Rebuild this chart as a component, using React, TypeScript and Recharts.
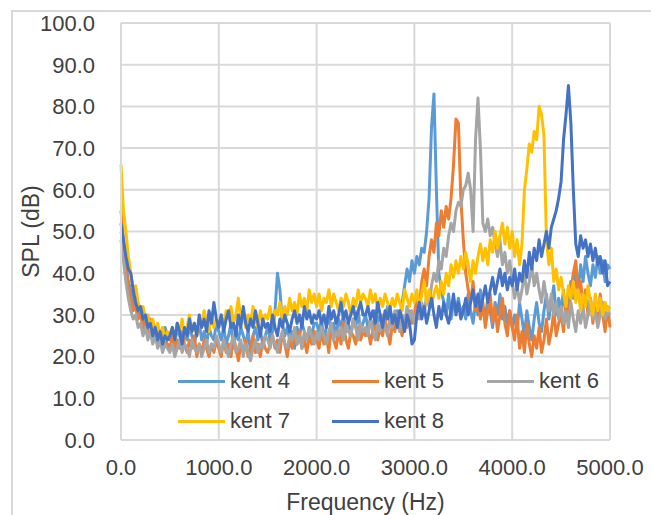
import { LineChart, Line, XAxis, YAxis, CartesianGrid, Legend, Label } from "recharts";

// SPL (dB) sampled every 25 Hz, 0 .. 5000 Hz
const FREQ_STEP_HZ = 25;

const kent4Spl = [
  50, 47, 42, 38, 36, 33, 32, 30, 31, 28, 29, 27, 28, 26, 27, 25, 26, 24, 27, 25,
  24, 26, 23, 27, 25, 22, 26, 24, 27, 25, 23, 26, 28, 24, 26, 23, 27, 25, 24, 28,
  26, 24, 27, 23, 25, 28, 22, 26, 24, 27, 25, 23, 26, 21, 25, 27, 24, 26, 23, 25,
  27, 24, 26, 31, 40, 36, 28, 25, 27, 24, 26, 22, 27, 25, 28, 26, 24, 27, 25, 28,
  28, 26, 29, 24, 27, 30, 26, 28, 25, 29, 27, 30, 26, 28, 25, 29, 27, 31, 26, 28,
  30, 27, 29, 26, 31, 28, 30, 27, 29, 32, 28, 30, 27, 31, 29, 33, 37, 41, 38, 43,
  40, 44, 42, 46, 45, 50, 58, 75, 83, 60, 40, 36, 33, 30, 35, 29, 33, 31, 34, 30,
  32, 29, 35, 31, 28, 33, 30, 36, 32, 29, 34, 31, 27, 33, 30, 35, 29, 32, 28, 31,
  27, 30, 26, 33, 29, 25, 31, 27, 24, 29, 33, 28, 26, 31, 35, 29, 33, 37, 30, 34,
  31, 36, 29, 33, 38, 34, 40, 36, 42, 38, 44, 40, 37, 42, 39, 44, 40, 43, 38, 42,
  41,
];

const kent5Spl = [
  55, 48, 42, 37, 34, 31, 32, 29, 30, 27, 28, 26, 29, 25, 27, 23, 26, 22, 24, 23,
  22, 25, 21, 24, 22, 26, 23, 21, 24, 22, 25, 20, 23, 21, 24, 22, 20, 23, 21, 24,
  22, 20, 24, 21, 23, 20, 25, 22, 19, 23, 21, 24, 20, 22, 25, 21, 23, 20, 24, 22,
  21, 23, 25, 22, 24, 21, 26, 23, 20, 24, 22, 25, 23, 26, 22, 24, 21, 25, 23, 26,
  24, 22, 26, 23, 25, 21, 27, 24, 22, 26, 23, 28, 24, 22, 26, 25, 23, 27, 24, 26,
  25, 27, 23, 26, 28, 24, 27, 25, 29, 26, 23, 28, 26, 30, 27, 25, 29, 27, 31, 28,
  30, 34, 32, 38, 41, 37, 44, 48, 45, 52, 49, 55, 51, 56, 53, 58, 66, 77, 76, 58,
  48, 40, 36, 33, 38, 31, 34, 29, 33, 27, 31, 35, 28, 32, 26, 30, 34, 28, 25, 31,
  27, 24, 30, 22, 26, 21, 28, 23, 20, 25, 22, 27, 21, 24, 29, 23, 26, 31, 25, 28,
  30, 26, 33, 29, 36, 40, 43, 35, 38, 32, 36, 30, 34, 28, 33, 29, 35, 30, 26, 32,
  27,
];

const kent6Spl = [
  48, 43, 38, 34, 31, 29, 30, 27, 28, 25, 27, 24, 26, 23, 25, 22, 24, 21, 23, 22,
  21, 23, 20, 22, 24, 21, 23, 22, 20, 24, 22, 21, 23, 20, 22, 24, 21, 23, 22, 25,
  23, 21, 24, 22, 20, 23, 25, 21, 22, 24, 20, 23, 21, 19, 22, 24, 21, 23, 22, 25,
  24, 22, 25, 23, 21, 24, 26, 23, 22, 25, 24, 27, 23, 25, 22, 26, 24, 27, 25, 23,
  26, 24, 27, 25, 23, 26, 28, 24, 26, 25, 27, 24, 28, 26, 25, 29, 27, 24, 28, 26,
  27, 25, 29, 26, 24, 28, 26, 30, 27, 25, 29, 27, 31, 28, 26, 30, 28, 32, 29, 31,
  28, 31, 29, 33, 30, 35, 32, 37, 40, 38, 43, 41, 46, 44, 49, 52, 50, 55, 57, 56,
  60, 61, 64, 60, 50, 72, 82, 70, 52, 50, 53, 49, 51, 47, 44, 48, 42, 45, 40, 43,
  38, 34, 37, 33, 36, 40, 35, 38, 42, 37, 40, 36, 33, 38, 34, 31, 35, 30, 33, 29,
  32, 28, 31, 27, 33, 29, 26, 31, 28, 32, 27, 30, 34, 29, 31, 27, 30, 33, 29, 31,
  30,
];

const kent7Spl = [
  66, 55, 50, 44, 40, 36, 37, 33, 31, 32, 29, 30, 27, 29, 26, 28, 25, 27, 24, 26,
  25, 27, 24, 28, 26, 29, 25, 27, 30, 26, 28, 25, 29, 27, 31, 28, 26, 30, 27, 29,
  28, 30, 27, 31, 29, 32, 28, 30, 34, 29, 31, 27, 30, 28, 32, 29, 27, 31, 28, 30,
  29, 32, 28, 31, 30, 33, 29, 32, 30, 34, 31, 33, 30, 35, 32, 34, 31, 36, 33, 35,
  32, 35, 31, 34, 33, 36, 32, 35, 33, 31, 34, 32, 35, 33, 30, 34, 32, 36, 33, 35,
  34, 32, 36, 33, 35, 31, 34, 32, 35, 33, 31, 34, 32, 35, 33, 31, 36, 34, 32, 35,
  33, 36, 31, 35, 38, 33, 36, 32, 35, 37, 34, 38, 35, 40, 37, 42, 39, 43, 40, 44,
  41, 45, 42, 38, 43, 40, 44, 47, 43, 46, 42, 48, 45, 50, 46, 49, 52, 47, 51, 46,
  50, 44, 48, 42, 47, 60, 65, 71, 69, 74, 72, 80, 78, 73, 48, 42, 46, 38, 41, 36,
  39, 35, 32, 37, 34, 38, 33, 36, 31, 35, 32, 37, 33, 30, 35, 31, 34, 30, 33, 31,
  32,
];

const kent8Spl = [
  52, 48, 44, 41, 40, 36, 33, 31, 32, 29, 30, 27, 28, 25, 27, 24, 26, 23, 25, 24,
  25, 27, 24, 28, 26, 23, 27, 25, 29, 26, 28, 25, 30, 27, 29, 26, 31, 28, 33, 29,
  27, 30, 26, 29, 31, 27, 28, 25, 30, 27, 32, 28, 26, 29, 27, 31, 28, 25, 29, 27,
  28, 26, 30, 27, 25, 29, 27, 30, 28, 26, 29, 31, 28, 30, 27, 32, 29, 31, 28, 30,
  29, 31, 28, 30, 27, 32, 29, 31, 28, 30, 33, 29, 31, 28, 30, 32, 29, 31, 33, 30,
  30, 32, 29, 31, 28, 33, 30, 27, 31, 29, 32, 28, 30, 27, 31, 29, 26, 30, 28, 23,
  24, 30, 33, 29, 32, 28, 31, 34, 30, 27, 32, 29, 33, 30, 28, 31, 35, 30, 33, 29,
  31, 34, 30, 33, 36, 32, 35, 31, 34, 37, 33, 36, 39, 35, 38, 41, 37, 40, 36, 39,
  37, 41, 36, 40, 38, 43, 39, 45, 41, 46, 43, 48, 44, 47, 50, 46, 51, 53, 55, 58,
  62, 72, 78, 85, 76, 60, 47, 44, 49, 46, 48, 44, 47, 43, 46, 42, 44, 40, 43, 37,
  38,
];

const seriesNames = ["kent 4", "kent 5", "kent 6", "kent 7", "kent 8"];
const seriesKeys = ["k4", "k5", "k6", "k7", "k8"];
const seriesColors = ["#5B9BD5", "#ED7D31", "#A5A5A5", "#FFC000", "#4472C4"];
const seriesValues = [kent4Spl, kent5Spl, kent6Spl, kent7Spl, kent8Spl];

const xTicks = [0, 1000, 2000, 3000, 4000, 5000];
const yTicks = [0, 10, 20, 30, 40, 50, 60, 70, 80, 90, 100];

const data = kent4Spl.map((_, i) => {
  const row: Record<string, number> = { freq: i * FREQ_STEP_HZ };
  seriesKeys.forEach((k, s) => (row[k] = seriesValues[s][i]));
  return row;
});

const FONT = "'Liberation Sans', Arial, sans-serif";
const TEXT = "#404040";
const GRID = "#d9d9d9";

// legend cells: 3 columns, 2 rows, laid over the bottom of the plot
const legendCols = [178, 332, 487];
const legendRows = [381, 421];

function ChartLegend() {
  return (
    <div style={{ position: "relative", width: 651, height: 515 }}>
      {seriesNames.map((name, i) => {
        const left = legendCols[i % 3];
        const top = legendRows[Math.floor(i / 3)];
        return (
          <div
            key={name}
            style={{
              position: "absolute",
              left,
              top: top - 13,
              height: 26,
              display: "flex",
              alignItems: "center",
              fontFamily: FONT,
              fontSize: 22,
              color: TEXT,
              whiteSpace: "nowrap",
            }}
          >
            <span style={{ display: "inline-block", width: 47, height: 3, background: seriesColors[i], marginRight: 5 }} />
            {name}
          </div>
        );
      })}
    </div>
  );
}

function YTitle({ viewBox }: any) {
  const cy = viewBox.y + viewBox.height / 2;
  const cx = 31;
  return (
    <text
      x={cx}
      y={cy}
      dy="0.35em"
      textAnchor="middle"
      transform={`rotate(-90 ${cx} ${cy})`}
      fontFamily={FONT}
      fontSize={23}
      fill={TEXT}
    >
      SPL (dB)
    </text>
  );
}

export default function App() {
  return (
    <div
      style={{
        position: "absolute",
        left: 0,
        top: 0,
        width: 651,
        height: 515,
        overflow: "hidden",
        background: "#fff",
      }}
    >
      <div
        style={{
          position: "absolute",
          left: 11,
          top: 10,
          width: 700,
          height: 600,
          border: `2px solid ${GRID}`,
        }}
      />
      <div style={{ position: "absolute", left: 0, top: 0 }}>
        <LineChart width={651} height={515} data={data} margin={{ top: 23, right: 41, left: 0, bottom: 0 }}>
          <CartesianGrid stroke={GRID} strokeWidth={2} />
          <XAxis
            dataKey="freq"
            type="number"
            domain={[0, 5000]}
            ticks={xTicks}
            tickFormatter={(v: number) => v.toFixed(1)}
            height={75}
            tickSize={0}
            tickMargin={19}
            axisLine={{ stroke: GRID, strokeWidth: 2 }}
            tick={{ fill: TEXT, fontSize: 22, fontFamily: FONT }}
          >
            <Label
              value="Frequency (Hz)"
              position="insideBottom"
              offset={5}
              style={{ fill: TEXT, fontSize: 23, fontFamily: FONT }}
            />
          </XAxis>
          <YAxis
            type="number"
            domain={[0, 100]}
            ticks={yTicks}
            tickFormatter={(v: number) => v.toFixed(1)}
            width={121}
            tickSize={0}
            tickMargin={26}
            axisLine={{ stroke: GRID, strokeWidth: 2 }}
            tick={{ fill: TEXT, fontSize: 22, fontFamily: FONT }}
          >
            <Label content={<YTitle />} />
          </YAxis>
          <Legend
            layout="horizontal"
            verticalAlign="middle"
            align="center"
            content={() => <ChartLegend />}
            wrapperStyle={{ left: 0, top: 0, width: 651, height: 515, pointerEvents: "none" }}
          />
          {seriesKeys.map((k, i) => (
            <Line
              key={k}
              dataKey={k}
              name={seriesNames[i]}
              stroke={seriesColors[i]}
              strokeWidth={3}
              strokeLinejoin="round"
              dot={false}
              activeDot={false}
              isAnimationActive={false}
            />
          ))}
        </LineChart>
      </div>
    </div>
  );
}
